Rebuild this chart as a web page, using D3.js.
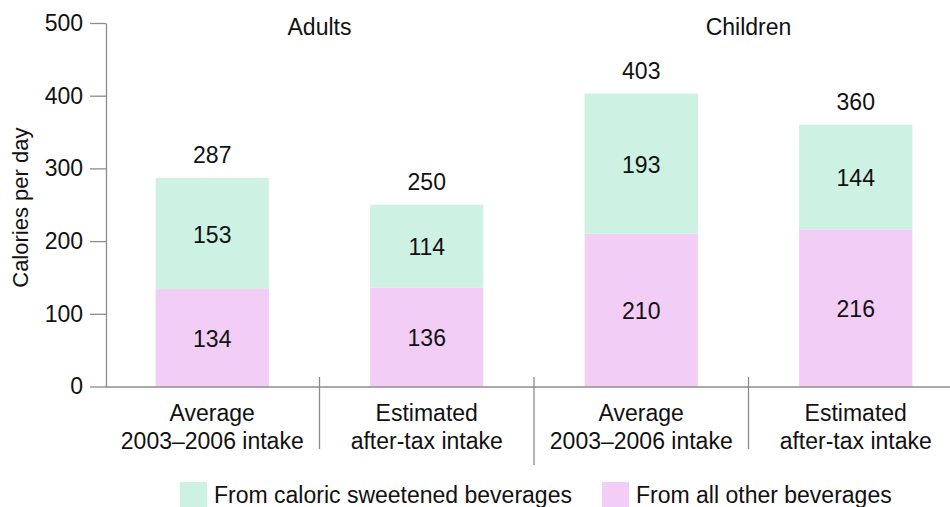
<!DOCTYPE html>
<html>
<head>
<meta charset="utf-8">
<script src="https://cdn.jsdelivr.net/npm/d3@7"></script>
<style>
  body { margin: 0; background: #fff; }
  svg text { font-family: "Liberation Sans", Arial, sans-serif; fill: #111; }
</style>
</head>
<body>
<div id="chart"></div>
<script>
// data
const groups = ['Adults', 'Children'];
const categories = ['Adults avg', 'Adults tax', 'Children avg', 'Children tax'];
const categoryLines = [
  ['Average', '2003\u20132006 intake'],
  ['Estimated', 'after-tax intake'],
  ['Average', '2003\u20132006 intake'],
  ['Estimated', 'after-tax intake'],
];
const otherBev = [134, 136, 210, 216];
const sweetBev = [153, 114, 193, 144];
const totals = [287, 250, 403, 360];
const yTicks = [0, 100, 200, 300, 400, 500];
const seriesNames = ['From caloric sweetened beverages', 'From all other beverages'];

const width = 950;
const height = 507;
const colGreen = '#cdf1e3';
const colPink = '#f2cdf5';
const axisCol = '#8c8c8c';
const fs = '23px';

const svg = d3.select('#chart')
  .append('svg')
  .attr('width', width)
  .attr('height', height);

const x = d3.scaleBand()
  .domain(categories)
  .range([105, 963])
  .paddingInner(0.472)
  .paddingOuter(0.236);

const y = d3.scaleLinear()
  .domain([0, 500])
  .range([386.5, 23]);

// y axis
const yAxis = d3.axisLeft(y).tickValues(yTicks).tickSize(16).tickPadding(7).tickSizeOuter(0);
const gy = svg.append('g')
  .attr('transform', 'translate(106,0)')
  .call(yAxis);
gy.selectAll('line, path').attr('stroke', axisCol).attr('stroke-width', 1.3);
gy.selectAll('text').style('font-size', fs).attr('fill', '#111');

svg.append('text')
  .attr('transform', `translate(28, ${y(246)}) rotate(-90)`)
  .attr('text-anchor', 'middle')
  .style('font-size', '22px')
  .text('Calories per day');

// bars
const rows = categories.map((c, i) => ({
  cat: c, other: otherBev[i], sweet: sweetBev[i], total: totals[i],
}));

const stack = d3.stack().keys(['other', 'sweet'])(rows);
const colors = { other: colPink, sweet: colGreen };

svg.append('g')
  .selectAll('g')
  .data(stack)
  .join('g')
  .attr('fill', (s) => colors[s.key])
  .selectAll('rect')
  .data((s) => s)
  .join('rect')
  .attr('x', (d) => x(d.data.cat))
  .attr('y', (d) => y(d[1]))
  .attr('width', x.bandwidth())
  .attr('height', (d) => y(d[0]) - y(d[1]));

// segment labels
const segLabels = svg.append('g')
  .attr('text-anchor', 'middle')
  .style('font-size', fs);

stack.forEach((s) => {
  segLabels.selectAll(null)
    .data(s)
    .join('text')
    .attr('x', (d) => x(d.data.cat) + x.bandwidth() / 2)
    .attr('y', (d) => y((d[0] + d[1]) / 2) + 1)
    .attr('dy', '0.35em')
    .text((d) => d[1] - d[0]);
});

// totals
svg.append('g')
  .attr('text-anchor', 'middle')
  .style('font-size', fs)
  .selectAll('text')
  .data(rows)
  .join('text')
  .attr('x', (d) => x(d.cat) + x.bandwidth() / 2)
  .attr('y', (d) => y(d.total) - 15)
  .text((d) => d.total);

// x axis
const xAxis = d3.axisBottom(x).tickSize(0).tickSizeOuter(0).tickFormat('');
const gx = svg.append('g')
  .attr('transform', `translate(0, ${y(0)})`)
  .call(xAxis);
gx.select('.domain').attr('stroke', axisCol).attr('stroke-width', 1.3);

// separators between bands
const step = x.step();
const seps = categories.slice(1).map((c, i) => ({
  pos: x(c) - (step - x.bandwidth()) / 2,
  mid: i === 1,
}));
svg.append('g')
  .selectAll('line')
  .data(seps)
  .join('line')
  .attr('x1', (d) => d.pos)
  .attr('x2', (d) => d.pos)
  .attr('y1', 377)
  .attr('y2', (d) => (d.mid ? 465 : 449))
  .attr('stroke', axisCol)
  .attr('stroke-width', 1.3);

// category labels
const catG = svg.append('g')
  .attr('text-anchor', 'middle')
  .style('font-size', fs);
categories.forEach((c, i) => {
  const t = catG.append('text')
    .attr('x', x(c) + x.bandwidth() / 2)
    .attr('y', 421);
  categoryLines[i].forEach((line, j) => {
    t.append('tspan')
      .attr('x', x(c) + x.bandwidth() / 2)
      .attr('dy', j === 0 ? 0 : 28)
      .text(line);
  });
});

// group titles
svg.append('g')
  .attr('text-anchor', 'middle')
  .style('font-size', fs)
  .selectAll('text')
  .data(groups)
  .join('text')
  .attr('x', (d, i) => (x(categories[i * 2]) + x(categories[i * 2 + 1]) + x.bandwidth()) / 2)
  .attr('y', 35)
  .text((d) => d);

// legend
const legend = [
  { name: seriesNames[0], color: colGreen, x: 180 },
  { name: seriesNames[1], color: colPink, x: 602 },
];
const lg = svg.append('g')
  .selectAll('g')
  .data(legend)
  .join('g')
  .attr('transform', (d) => `translate(${d.x}, 482)`);
lg.append('rect')
  .attr('width', 27)
  .attr('height', 27)
  .attr('fill', (d) => d.color);
lg.append('text')
  .attr('x', 34)
  .attr('y', 21)
  .style('font-size', fs)
  .text((d) => d.name);
</script>
</body>
</html>
